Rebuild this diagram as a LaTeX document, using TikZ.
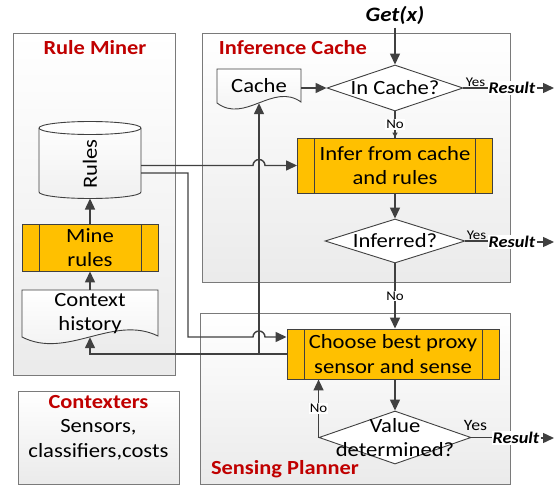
\documentclass[tikz,border=0pt]{standalone}
\usepackage{fontspec}
\setmainfont{Carlito}[FakeStretch=1.12]
\usetikzlibrary{shapes.geometric,arrows.meta}

\definecolor{linecol}{HTML}{404040}
\definecolor{panelline}{HTML}{7A7A7A}
\definecolor{procfill}{HTML}{FFC000}
\definecolor{titlered}{HTML}{C00000}

\newcommand{\bodyfont}{\fontsize{20.2}{24.5}\selectfont}
\newcommand{\titlefont}{\fontsize{20}{24}\selectfont\bfseries}
\newcommand{\tagfont}{\fontsize{13.3}{15}\selectfont}
\newcommand{\resfont}{\fontsize{16.3}{19}\selectfont\bfseries\itshape}

\tikzset{
  panel/.style={draw=panelline, line width=0.8pt, top color=white, bottom color=black!8},
  paneltitle/.style={text=titlered, font=\titlefont, inner sep=1pt},
  process/.style={rectangle, draw=linecol, line width=0.9pt, fill=procfill, align=center,
    font=\bodyfont, inner sep=0pt,
    path picture={\draw[linecol, line width=0.9pt]
      ([xshift=17pt]path picture bounding box.north west) -- ([xshift=17pt]path picture bounding box.south west)
      ([xshift=-17pt]path picture bounding box.north east) -- ([xshift=-17pt]path picture bounding box.south east);}},
  decision/.style={diamond, draw=linecol, line width=0.9pt, fill=white, inner sep=0pt,
    label={[font=\bodyfont, align=center]center:#1}},
  docshape/.style={draw=linecol, line width=0.9pt, top color=white, bottom color=black!6},
  doctext/.style={font=\bodyfont, align=center, inner sep=0pt},
  link/.style={draw=linecol, line width=1.4pt},
  flow/.style={link, -{Triangle[length=11pt,width=10pt]}},
  tag/.style={font=\tagfont, inner sep=1pt},
  result/.style={font=\resfont, fill=white, inner sep=1pt}
}

\begin{document}
\begin{tikzpicture}[x=1pt,y=1pt]
 \useasboundingbox (0,0) rectangle (555,-485);

 \draw[panel] (13,-33) rectangle (175,-375);
 \draw[panel] (202,-33) rectangle (510,-282);
 \draw[panel] (200,-313) rectangle (510,-484);
 \node[paneltitle] (minertitle) at (95,-48) {Rule Miner};
 \node[paneltitle] (cachetitle) at (293,-48) {Inference Cache};
 \node[paneltitle] (plannertitle) at (285,-469) {Sensing Planner};

 \node[panel, minimum width=161, minimum height=93] (contexters) at (98.5,-437.5) {};
 \node[anchor=north, align=center, font=\bodyfont, inner sep=0pt] (contextext) at (98.5,-395)
   {{\titlefont\color{titlered}Contexters}\\Sensors,\\classifiers,costs};

 \draw[docshape] (217,-69) -- (301,-69) -- (301,-102) .. controls (273,-82) and (245,-124) .. (217,-103) -- cycle;
 \node[doctext, minimum width=84, minimum height=34] (cache) at (259,-86) {Cache};
 \draw[docshape] (22,-290) -- (158,-290) -- (158,-336) .. controls (113,-314) and (67,-360) .. (22,-337) -- cycle;
 \node[doctext, minimum width=136, minimum height=47] (history) at (90,-313.5) {Context\\history};

 \draw[docshape] (39,-128) -- (39,-192) arc[start angle=180, end angle=360, x radius=51, y radius=6.5]
   -- (141,-128) arc[start angle=0, end angle=180, x radius=51, y radius=6.5] -- cycle;
 \draw[linecol, line width=0.9pt] (39,-128) arc[start angle=180, end angle=360, x radius=51, y radius=6.5];
 \node[rotate=90, font=\bodyfont, inner sep=0pt, minimum width=70, minimum height=102] (rules) at (90,-164) {Rules};
 \node[process, minimum width=136, minimum height=47] (mine) at (90,-247.5) {Mine\\rules};

 \node[font=\fontsize{20.5}{24}\selectfont\bfseries\itshape] (getx) at (395,-15) {Get(x)};
 \node[decision={In Cache?}, minimum width=136, minimum height=46] (incache) at (395,-88) {};
 \node[process, minimum width=195, minimum height=55] (infer) at (395,-165.5) {Infer from cache\\and rules};
 \node[decision={Inferred?}, minimum width=140, minimum height=44] (inferred) at (395,-241) {};
 \node[process, minimum width=212, minimum height=50] (choose) at (393,-354) {Choose best proxy\\sensor and sense};
 \node[decision={Value\\determined?}, minimum width=152, minimum height=53] (value) at (395,-437.5) {};

 \node[result] (res1) at (512,-88) {Result};
 \node[result] (res2) at (512,-242) {Result};
 \node[result] (res3) at (516,-438) {Result};
 \coordinate (out1) at (554,-88);
 \coordinate (out2) at (554,-242);
 \coordinate (out3) at (554,-438);

 \draw[flow] (getx) -- (incache.north);
 \draw[flow] (cache.east |- incache.west) -- (incache.west);
 \draw[link] (incache.south) -- (infer.north) node[midway, tag, fill=white] {No};
 \draw[link, -{Triangle[length=5pt,width=5pt]}] (395,-132) -- (infer.north);
 \draw[flow] (infer.south) -- (inferred.north);
 \draw[flow] (inferred.south) -- (inferred.south |- choose.north) node[midway, tag, fill=white] {No};
 \draw[flow] (value.north |- choose.south) -- (value.north);
 \draw[flow] (value.west) -- (value.west |- choose.south) node[midway, tag, fill=white] {No};

 \draw[link] (incache.east) -- (res1.west) node[midway, above, tag] {Yes};
 \draw[flow] (res1.east) -- (out1);
 \draw[link] (inferred.east) -- (res2.west |- inferred.east) node[midway, above, tag] {Yes};
 \draw[flow] (res2.east) -- (out2);
 \draw[link] (value.east) -- (res3.west |- value.east) node[pos=0.2, above=3pt, font=\fontsize{15.8}{18}\selectfont] {Yes};
 \draw[flow] (res3.east) -- (out3);

 \draw[flow] (history.north) -- (mine.south);
 \draw[flow] (mine.north) -- (90,-198.5);

 \draw[flow] (141,0 |- infer.west) -- (253,0 |- infer.west) arc[start angle=180, end angle=0, radius=6] -- (infer.west);
 \draw[flow] (141,-173) -| (188,-337) -- (253,-337) arc[start angle=180, end angle=0, radius=6] -- (choose.west |- 0,-337);
 \draw[flow] (choose.west) -| (history.south);
 \draw[flow] (cache.south |- choose.west) -- (cache.south);
\end{tikzpicture}
\end{document}
